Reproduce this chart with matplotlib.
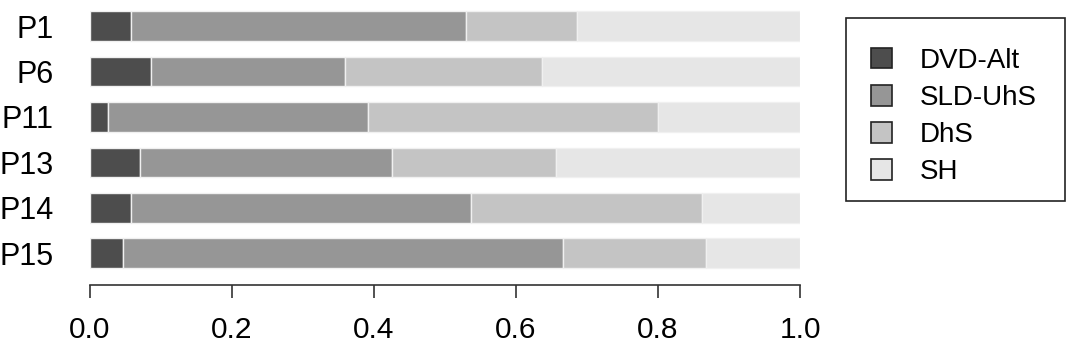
import matplotlib
matplotlib.use("Agg")
import matplotlib.pyplot as plt
import numpy as np
from matplotlib.patches import Patch, Rectangle

plt.rcParams['font.family'] = ['Liberation Sans', 'DejaVu Sans']

categories = ["P1", "P6", "P11", "P13", "P14", "P15"]
series_names = ["DVD-Alt", "SLD-UhS", "DhS", "SH"]
dvd_alt = [0.058, 0.086, 0.025, 0.070, 0.058, 0.047]
sld_uhs = [0.472, 0.273, 0.366, 0.356, 0.478, 0.619]
dhs     = [0.156, 0.278, 0.409, 0.231, 0.326, 0.201]
sh      = [0.314, 0.363, 0.200, 0.343, 0.138, 0.133]
colors = ["#4D4D4D", "#969696", "#C4C4C4", "#E6E6E6"]
xticks = [0.0, 0.2, 0.4, 0.6, 0.8, 1.0]

W, H = 1079, 359
fig = plt.figure(figsize=(W / 100, H / 100), dpi=100)
ax = fig.add_axes([90 / W, 1 - 285 / H, 710 / W, 285 / H])

ypos = np.arange(len(categories))
left = np.zeros(len(categories))
for name, vals, c in zip(series_names, [dvd_alt, sld_uhs, dhs, sh], colors):
    vals = np.array(vals)
    ax.barh(ypos, vals, left=left, height=0.65, color=c,
            edgecolor="#f0f0f0", linewidth=1.0, label=name)
    left += vals

ax.set_xlim(0, 1)
ax.set_ylim(5.70, -0.573)
for s in ["top", "right", "left"]:
    ax.spines[s].set_visible(False)
ax.spines["bottom"].set_color("#333333")
ax.spines["bottom"].set_linewidth(1.2)
ax.set_xticks(xticks)
ax.set_xticklabels([f"{t:.1f}" for t in xticks])
ax.tick_params(axis="x", length=9, width=1.2, color="#333333", pad=13, labelsize=21.5)
ax.set_yticks(ypos)
ax.set_yticklabels(categories)
ax.tick_params(axis="y", length=0, pad=26, labelsize=22)

leg_handles = [Patch(facecolor=c, edgecolor="#222222", linewidth=1.2) for c in colors]
leg = fig.legend(leg_handles, series_names, loc="upper left",
                 bbox_to_anchor=(871 / W, 1 - 48 / H), fontsize=20,
                 frameon=False,
                 handlelength=0.75, handleheight=0.75, handletextpad=1.0,
                 borderpad=0, labelspacing=0.4, borderaxespad=0)

frame = Rectangle((846 / W, 1 - 201 / H), (1065 - 846) / W, (201 - 18) / H,
                  transform=fig.transFigure, fill=False,
                  edgecolor="#222222", linewidth=1.2)
fig.patches.append(frame)

fig.savefig("out.png", dpi=100)
